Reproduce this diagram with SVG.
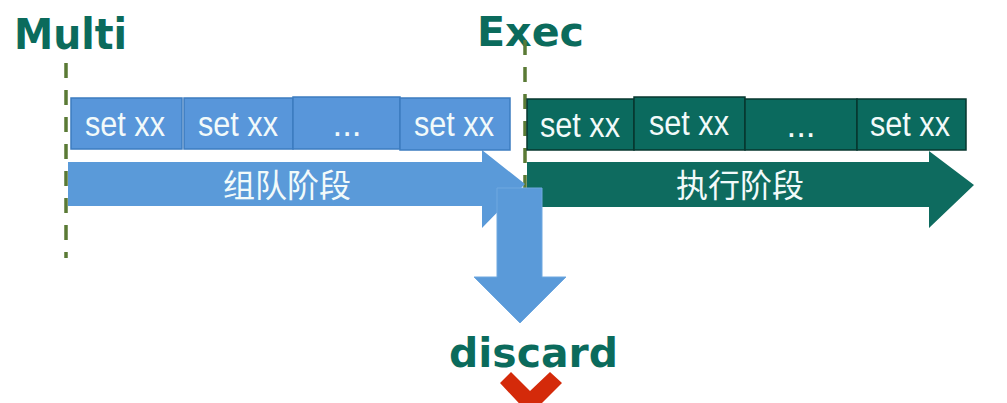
<svg xmlns="http://www.w3.org/2000/svg" width="1007" height="403" viewBox="0 0 1007 403">
<style>
.title{font-family:"DejaVu Sans",Verdana,sans-serif;font-weight:bold;fill:#0b6b5c}
.dash{stroke:#5a7a35;stroke-width:3.5;stroke-dasharray:15 12;fill:none}
.bbox{fill:#5896da;stroke:#3d7cc0;stroke-width:1.5}
.gbox{fill:#0b6a5e;stroke:#07372f;stroke-width:1.5}
.lbl{font-family:"Liberation Sans",Arial,sans-serif;font-size:35px;fill:#f2fafa;text-anchor:middle}
.cn{font-family:"Noto Sans CJK SC",sans-serif;font-size:32px;fill:#f2fafa;text-anchor:middle}
.barrow{fill:#5a9ad9}
.garrow{fill:#0e6b5f}
</style>
<rect width="1007" height="403" fill="#ffffff"/>
<g id="multi"><text class="title" x="14" y="49" font-size="42" textLength="113" lengthAdjust="spacingAndGlyphs">Multi</text></g>
<g id="exec"><text class="title" x="477" y="46" font-size="40" textLength="107" lengthAdjust="spacingAndGlyphs">Exec</text></g>
<g id="connectors">
<line class="dash" x1="66" y1="63" x2="66" y2="258"/>
<line class="dash" x1="525" y1="40" x2="525" y2="188"/>
</g>
<g id="queue-arrow">
<polygon class="barrow" points="68,162 482,162 482,150 525,184 482,228 482,206 68,206"/>
<text class="cn" x="287" y="197">组队阶段</text>
</g>
<g id="exec-arrow">
<polygon class="garrow" points="527,162 929,162 929,151 974,185 929,228 929,207 527,207"/>
<text class="cn" x="740" y="197">执行阶段</text>
</g>
<g id="q1"><rect class="bbox" x="71" y="98" width="111" height="51"/><text class="lbl" x="125" y="136" textLength="80" lengthAdjust="spacingAndGlyphs">set xx</text></g>
<g id="q2"><rect class="bbox" x="184" y="98" width="109" height="51"/><text class="lbl" x="238" y="136" textLength="80" lengthAdjust="spacingAndGlyphs">set xx</text></g>
<g id="q3"><rect class="bbox" x="293" y="97" width="107" height="52"/><text class="lbl" x="347" y="136">...</text></g>
<g id="q4"><rect class="bbox" x="400" y="98" width="110" height="52"/><text class="lbl" x="454" y="136" textLength="80" lengthAdjust="spacingAndGlyphs">set xx</text></g>
<g id="e1"><rect class="gbox" x="527" y="99" width="107" height="51"/><text class="lbl" x="580" y="137" textLength="80" lengthAdjust="spacingAndGlyphs">set xx</text></g>
<g id="e2"><rect class="gbox" x="634" y="97" width="111" height="53"/><text class="lbl" x="689" y="135" textLength="80" lengthAdjust="spacingAndGlyphs">set xx</text></g>
<g id="e3"><rect class="gbox" x="745" y="99" width="112" height="51"/><text class="lbl" x="801" y="137">...</text></g>
<g id="e4"><rect class="gbox" x="857" y="99" width="109" height="51"/><text class="lbl" x="910" y="136" textLength="80" lengthAdjust="spacingAndGlyphs">set xx</text></g>
<g id="discard-arrow">
<polygon class="barrow" points="497,188 542,188 542,277 566,277 520,323 474,277 497,277" stroke="#6fa8e0" stroke-width="1"/>
</g>
<g id="discard">
<text class="title" x="449" y="367" font-size="41" textLength="169" lengthAdjust="spacingAndGlyphs">discard</text>
<polygon points="500,383 511,372 530,391 550,372 562,383 530,415" fill="#d42a0a"/>
</g>
</svg>
